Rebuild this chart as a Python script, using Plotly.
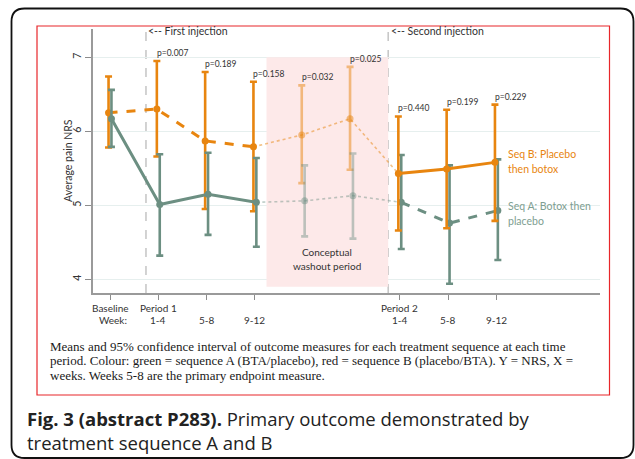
import plotly.graph_objects as go

# ---------------- data ----------------
time_points = ["Baseline", "P1 1-4", "P1 5-8", "P1 9-12", "Washout a", "Washout b", "P2 1-4", "P2 5-8", "P2 9-12"]
seq_b_mean = [6.25, 6.30, 5.87, 5.79, 5.95, 6.17, 5.43, 5.49, 5.58]
seq_b_low = [5.78, 5.66, 4.95, 4.92, 5.30, 5.48, 4.66, 4.69, 4.79]
seq_b_high = [6.74, 6.95, 6.80, 6.67, 6.62, 6.87, 6.20, 6.29, 6.36]
seq_a_mean = [6.17, 5.01, 5.15, 5.04, 5.06, 5.13, 5.04, 4.76, 4.93]
seq_a_low = [5.79, 4.32, 4.60, 4.44, 4.58, 4.55, 4.41, 3.94, 4.26]
seq_a_high = [6.56, 5.69, 5.71, 5.64, 5.54, 5.70, 5.68, 5.54, 5.62]
p_values = ["", "p=0.007", "p=0.189", "p=0.158", "p=0.032", "p=0.025", "p=0.440", "p=0.199", "p=0.229"]
tick_positions = [0, 1, 2, 3, 6, 7, 8]
tick_top = ["Baseline", "Period 1", "", "", "Period 2", "", ""]
tick_bottom = ["Week:", "1-4", "5-8", "9-12", "1-4", "5-8", "9-12"]
y_ticks = [4, 5, 6, 7]

# ---------------- style ----------------
ORANGE = "#E8850F"
ORANGE_FADE = "rgba(232,133,15,0.5)"
GREEN = "#6C8F82"
GREEN_FADE = "rgba(108,143,130,0.45)"
TXT = "#333333"
FONT = "Lato"

W, H = 635, 459
L, R, T, B = 93, 35, 29, 166
PW, PH = W - L - R, H - T - B


def px(xp):
    return (xp - L) / PW


def py(yp):
    return (T + PH - yp) / PH


P1 = [0, 1, 2, 3]
WO = [3, 4, 5, 6]
WP = [4, 5]
P2 = [6, 7, 8]

fig = go.Figure()


def add_series(mean, low, high, off, col, fade, p1_dash, p2_dash, order):
    xs = [i + off for i in range(len(mean))]
    def sub(lst, idx):
        return [lst[i] for i in idx]
    def bars(idx, c, mc):
        fig.add_trace(go.Scatter(
            x=sub(xs, idx), y=sub(mean, idx), mode="markers",
            marker=dict(color=mc, size=7),
            error_y=dict(type="data", symmetric=False,
                         array=[high[i] - mean[i] for i in idx],
                         arrayminus=[mean[i] - low[i] for i in idx],
                         color=c, thickness=2.6, width=3.5),
            hoverinfo="skip", showlegend=False))
    def line(idx, c, dash, w):
        fig.add_trace(go.Scatter(
            x=sub(xs, idx), y=sub(mean, idx), mode="lines",
            line=dict(color=c, width=w, dash=dash),
            hoverinfo="skip", showlegend=False))
    if order == "p1":
        line(WO, fade, "dot", 1.6)
        bars(WP, fade, fade)
        line(P1, col, p1_dash, 3)
        bars(P1, col, col)
    else:
        line(P2, col, p2_dash, 3)
        bars(P2, col, col)


# draw order: washouts & period 1 (orange, then green), period 2 (green, then orange)
add_series(seq_b_mean, seq_b_low, seq_b_high, -0.03, ORANGE, ORANGE_FADE, "dash", "solid", "p1")
add_series(seq_a_mean, seq_a_low, seq_a_high, 0.03, GREEN, GREEN_FADE, "solid", "dash", "p1")
add_series(seq_a_mean, seq_a_low, seq_a_high, 0.03, GREEN, GREEN_FADE, "solid", "dash", "p2")
add_series(seq_b_mean, seq_b_low, seq_b_high, -0.03, ORANGE, ORANGE_FADE, "dash", "solid", "p2")

ann = []
# p-values above orange CI
for i, p in enumerate(p_values):
    if p:
        ann.append(dict(x=i - 0.03, y=seq_b_high[i], text=p, xanchor="left", yanchor="bottom",
                        xshift=-2, yshift=1, showarrow=False,
                        font=dict(family=FONT, size=8.5, color=TXT)))

# x tick labels
for xv, top, bot in zip(tick_positions, tick_top, tick_bottom):
    if top:
        ann.append(dict(x=xv, y=py(308), xref="x", yref="paper", text=top, showarrow=False,
                        xanchor="center", yanchor="middle", font=dict(family=FONT, size=10, color=TXT)))
    if bot == "Week:":
        ann.append(dict(x=px(129), y=py(319.5), xref="paper", yref="paper", text=bot, showarrow=False,
                        xanchor="right", yanchor="middle", font=dict(family=FONT, size=10, color=TXT)))
    else:
        ann.append(dict(x=xv, y=py(319.5), xref="x", yref="paper", text=bot, showarrow=False,
                        xanchor="center", yanchor="middle", font=dict(family=FONT, size=10, color=TXT)))

# y axis title
ann.append(dict(x=px(68), y=py(161), xref="paper", yref="paper", text="Average pain NRS", textangle=-90,
                xanchor="center", yanchor="middle",
                showarrow=False, font=dict(family=FONT, size=10.5, color=TXT)))

# injection labels
ann.append(dict(x=px(146), y=py(31), xref="paper", yref="paper", text="<-- First injection",
                xanchor="left", yanchor="middle", showarrow=False, font=dict(family=FONT, size=10.5, color=TXT)))
ann.append(dict(x=px(388.5), y=py(31), xref="paper", yref="paper", text="<-- Second injection",
                xanchor="left", yanchor="middle", showarrow=False, font=dict(family=FONT, size=10.5, color=TXT)))

# washout label
ann.append(dict(x=4.5, y=py(260), xref="x", yref="paper", text="Conceptual", showarrow=False,
                font=dict(family=FONT, size=10, color=TXT)))
ann.append(dict(x=4.5, y=py(274), xref="x", yref="paper", text="washout period", showarrow=False,
                font=dict(family=FONT, size=10, color=TXT)))

# series labels
for txt, yy, col in [("Seq B: Placebo", 154, ORANGE), ("then botox", 169, ORANGE),
                     ("Seq A: Botox then", 206, "#7E9E91"), ("placebo", 220.5, "#7E9E91")]:
    ann.append(dict(x=px(506), y=py(yy), xref="paper", yref="paper", text=txt, xanchor="left",
                    yanchor="middle", showarrow=False, font=dict(family=FONT, size=10.5, color=col)))

# caption inside red box
cap = ["Means and 95% confidence interval of outcome measures for each treatment sequence at each time",
       "period. Colour: green = sequence A (BTA/placebo), red = sequence B (placebo/BTA). Y = NRS, X =",
       "weeks. Weeks 5-8 are the primary endpoint measure."]
for k, line_txt in enumerate(cap):
    ann.append(dict(x=px(48), y=py(346 + 14.7 * k), xref="paper", yref="paper", text=line_txt,
                    xanchor="left", yanchor="middle", showarrow=False,
                    font=dict(family="Liberation Serif", size=13, color="#1a1a1a")))

# figure caption
ann.append(dict(x=px(25), y=py(430.3), xref="paper", yref="paper",
                text="<b>Fig. 3 (abstract P283).</b> Primary outcome demonstrated by<br>treatment sequence A and B",
                xanchor="left", yanchor="middle", align="left", showarrow=False,
                font=dict(family="Open Sans", size=18.5, color="#222222")))

shapes = []
# washout shading
shapes.append(dict(type="rect", xref="x", yref="y", x0=3.24, x1=5.76, y0=3.9, y1=7.0,
                   fillcolor="#FDE9E9", line=dict(width=0), layer="between"))
# injection lines
for xv in [0.745, 5.76]:
    shapes.append(dict(type="line", xref="x", yref="paper", x0=xv, x1=xv, y0=0, y1=1,
                       line=dict(color="#C8C8C8", width=1.6, dash="dash"), layer="between"))
# red frame
shapes.append(dict(type="rect", xref="paper", yref="paper", x0=px(37), x1=px(609.5), y0=py(26), y1=py(395),
                   line=dict(color="#E8262A", width=1.2), fillcolor="rgba(0,0,0,0)", layer="below"))
# outer rounded border
x0, x1, y0, y1, r = 11.5, 633.5, 8.5, 458, 13
path = (f"M {px(x0)},{py(y1 - r)} L {px(x0)},{py(y0 + r)} Q {px(x0)},{py(y0)} {px(x0 + r)},{py(y0)} "
        f"L {px(x1 - r)},{py(y0)} Q {px(x1)},{py(y0)} {px(x1)},{py(y0 + r)} L {px(x1)},{py(y1 - r)} "
        f"Q {px(x1)},{py(y1)} {px(x1 - r)},{py(y1)} L {px(x0 + r)},{py(y1)} Q {px(x0)},{py(y1)} {px(x0)},{py(y1 - r)} Z")
shapes.append(dict(type="path", xref="paper", yref="paper", path=path,
                   line=dict(color="#111111", width=1.8), fillcolor="rgba(0,0,0,0)", layer="below"))

fig.update_layout(
    width=W, height=H,
    margin=dict(l=L, r=R, t=T, b=B, pad=0),
    paper_bgcolor="white", plot_bgcolor="white",
    showlegend=False,
    annotations=ann, shapes=shapes,
    xaxis=dict(range=[-0.352, 10.145], tickvals=tick_positions, ticktext=[""] * len(tick_positions),
               ticks="outside", ticklen=5, tickwidth=1.2, tickcolor="#8c8c8c",
               showgrid=False, zeroline=False, showline=True, linecolor="#9a9a9a", linewidth=1.8,
               fixedrange=True),
    yaxis=dict(range=[3.815, 7.382], tickvals=y_ticks, ticks="outside", ticklen=6, tickwidth=1.2,
               tickcolor="#8c8c8c", tickangle=-90, tickfont=dict(family=FONT, size=10.5, color=TXT),
               showgrid=True, gridcolor="#E6EFEE", gridwidth=1, zeroline=False,
               showline=True, linecolor="#9a9a9a", linewidth=1.8, fixedrange=True),
)

fig.write_html("out.html", config={"displayModeBar": False},
               post_script="document.body.style.margin='0px';document.body.style.overflow='hidden';")
